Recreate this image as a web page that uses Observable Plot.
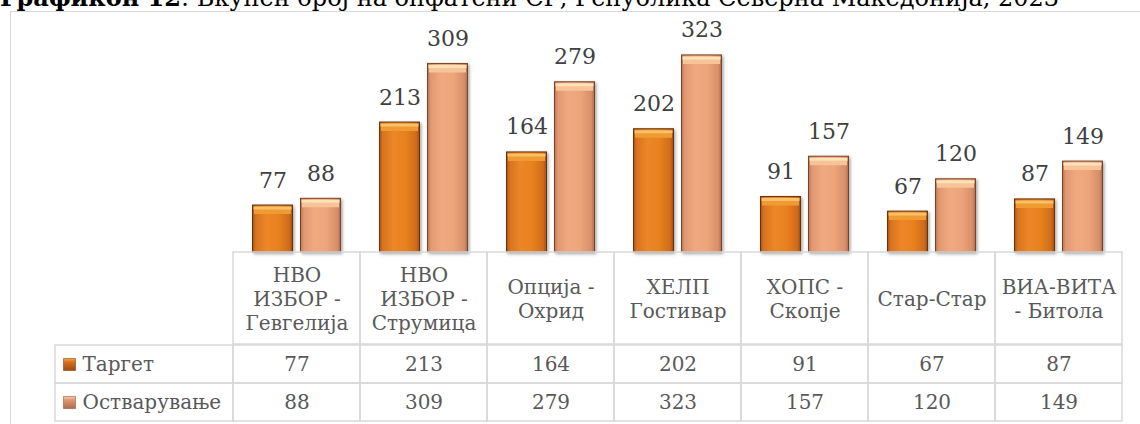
<!DOCTYPE html>
<html><head><meta charset="utf-8">
<script src="https://cdn.jsdelivr.net/npm/d3@7"></script>
<script src="https://cdn.jsdelivr.net/npm/@observablehq/plot@0.6"></script>
<style>
body{margin:0;background:#fff}
#wrap{position:relative;width:1140px;height:424px;overflow:hidden;background:#fff}
#title{position:absolute;left:0;top:-14px;font-family:"DejaVu Serif",serif;font-size:24px;line-height:24px;white-space:nowrap;color:#000}
#frame{position:absolute;left:10px;top:11px;width:1400px;height:600px;border:1.5px solid #d9d9d9;box-sizing:border-box}
#chart{position:absolute;left:0;top:0}
#chart svg{display:block}
</style></head><body>
<div id="wrap"><div id="frame"></div><div id="title"><b>Графикон 12</b>: Вкупен број на опфатени СР, Република Северна Македонија, 2023</div><div id="chart"></div></div>
<script>
const categories = ["НВО\nИЗБОР -\nГевгелија", "НВО\nИЗБОР -\nСтрумица", "Опција -\nОхрид", "ХЕЛП\nГостивар", "ХОПС -\nСкопје", "Стар-Стар", "ВИА-ВИТА\n- Битола"];
const seriesNames = ["Таргет", "Остварување"];
const targetValues = [77, 213, 164, 202, 91, 67, 87];
const actualValues = [88, 309, 279, 323, 157, 120, 149];

const rows = categories.map((cat, i) => ({cat, target: targetValues[i], actual: actualValues[i]}));
const bodyData = seriesNames.flatMap((s, j) => categories.map((cat, i) => ({cat, series: s, value: (j ? actualValues : targetValues)[i]})));

const FONT = '"DejaVu Serif", serif';
const W = 1140, ML = 233, MR = 18;
const LINE = "#d9d9d9";
const TXT = "#595959";

function defs() {
  const d = document.createElementNS("http://www.w3.org/2000/svg", "defs");
  d.innerHTML = `
  <linearGradient id="gT" x1="0" x2="1" y1="0" y2="0">
    <stop offset="0" stop-color="#A85212"/><stop offset="0.08" stop-color="#D8731F"/>
    <stop offset="0.35" stop-color="#EC8627"/><stop offset="0.65" stop-color="#E8811F"/>
    <stop offset="0.92" stop-color="#D06B19"/><stop offset="1" stop-color="#9E4C10"/>
  </linearGradient>
  <linearGradient id="gA" x1="0" x2="1" y1="0" y2="0">
    <stop offset="0" stop-color="#B87350"/><stop offset="0.08" stop-color="#E09871"/>
    <stop offset="0.35" stop-color="#F0A97F"/><stop offset="0.65" stop-color="#EDA47A"/>
    <stop offset="0.92" stop-color="#D78F69"/><stop offset="1" stop-color="#AE6C4C"/>
  </linearGradient>
  <linearGradient id="lT" x1="0" x2="0" y1="0" y2="1">
    <stop offset="0" stop-color="#F3A94A"/><stop offset="0.3" stop-color="#D56F1E"/><stop offset="1" stop-color="#9E4C10"/>
  </linearGradient>
  <linearGradient id="lA" x1="0" x2="0" y1="0" y2="1">
    <stop offset="0" stop-color="#F8D0A8"/><stop offset="0.3" stop-color="#DE9770"/><stop offset="1" stop-color="#AE6C4C"/>
  </linearGradient>
  <filter id="sh" x="-20%" y="-20%" width="150%" height="140%">
    <feDropShadow dx="1.5" dy="1.5" stdDeviation="1.8" flood-color="#000" flood-opacity="0.35"/>
  </filter>`;
  return d;
}

const common = {
  width: W, marginLeft: ML, marginRight: MR,
  style: {background: "transparent", overflow: "visible", fontFamily: FONT},
  x: {domain: categories, padding: 0, axis: null}
};

const bars = Plot.plot({
  ...common, height: 252, marginTop: 0, marginBottom: 0,
  y: {domain: [0, 413], axis: null},
  marks: [
    defs,
    Plot.barY(rows, {x: "cat", y: "target", fill: "url(#gT)", stroke: "#6a3210", strokeWidth: 1, insetLeft: 19.5, insetRight: 67.5}),
    Plot.barY(rows, {x: "cat", y: "actual", fill: "url(#gA)", stroke: "#7a4528", strokeWidth: 1, insetLeft: 67.5, insetRight: 19.5}),
    Plot.tickY(rows, {x: "cat", y: "target", stroke: "#F09A34", strokeWidth: 5, dy: 6, insetLeft: 21, insetRight: 69}),
    Plot.tickY(rows, {x: "cat", y: "target", stroke: "#F8C166", strokeWidth: 3, dy: 2.5, insetLeft: 20.5, insetRight: 68.5}),
    Plot.tickY(rows, {x: "cat", y: "actual", stroke: "#F7C49A", strokeWidth: 5, dy: 6, insetLeft: 69, insetRight: 21}),
    Plot.tickY(rows, {x: "cat", y: "actual", stroke: "#FDE2B8", strokeWidth: 3, dy: 2.5, insetLeft: 68.5, insetRight: 20.5}),
    Plot.text(rows, {x: "cat", y: "target", text: d => String(d.target), dx: -24, dy: -18, lineAnchor: "bottom", fontSize: 22, fill: "#404040"}),
    Plot.text(rows, {x: "cat", y: "actual", text: d => String(d.actual), dx: 24, dy: -18, lineAnchor: "bottom", fontSize: 22, fill: "#404040"})
  ]
});
bars.querySelectorAll('g[aria-label="bar"]').forEach(g => g.setAttribute("filter", "url(#sh)"));

const header = Plot.plot({
  ...common, height: 92, marginTop: 0, marginBottom: 0,
  marks: [
    Plot.cell(categories, {x: d => d, fill: "none", stroke: LINE, strokeWidth: 1.5}),
    Plot.text(categories, {x: d => d, text: d => d, frameAnchor: "middle", lineHeight: 1.2, fontSize: 20, fill: TXT})
  ]
});

const body = Plot.plot({
  ...common, height: 80, marginTop: 0, marginBottom: 3,
  y: {domain: seriesNames, padding: 0, axis: null},
  marks: [
    Plot.cell(bodyData, {x: "cat", y: "series", fill: "none", stroke: LINE, strokeWidth: 1.5}),
    Plot.cell(seriesNames, {y: d => d, fill: "none", stroke: LINE, strokeWidth: 1.5, insetLeft: -178, insetRight: W - ML - MR}),
    Plot.text(bodyData, {x: "cat", y: "series", text: d => String(d.value), fontSize: 20, fill: TXT}),
    Plot.dot(seriesNames.slice(0, 1), {y: d => d, frameAnchor: "left", dx: -164, symbol: "square", r: 6.8, fill: "url(#lT)", stroke: "#8a4512", strokeWidth: 0.6}),
    Plot.dot(seriesNames.slice(1, 2), {y: d => d, frameAnchor: "left", dx: -164, symbol: "square", r: 6.8, fill: "url(#lA)", stroke: "#94583a", strokeWidth: 0.6}),
    Plot.text(seriesNames, {y: d => d, text: d => d, frameAnchor: "left", dx: -151, textAnchor: "start", fontSize: 20, fill: TXT})
  ]
});

const chart = document.getElementById("chart");
chart.append(bars, header, body);
</script>
</body></html>
